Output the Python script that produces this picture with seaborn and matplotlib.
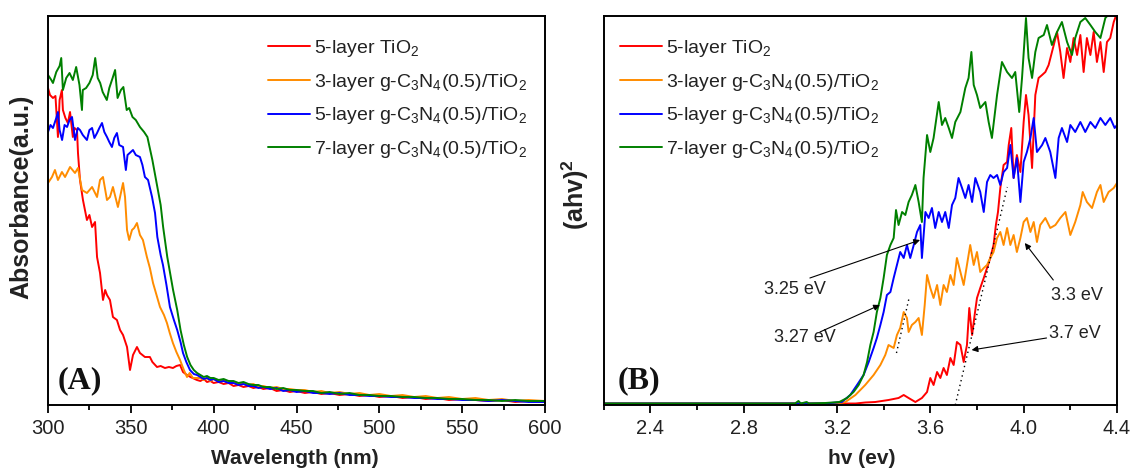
import matplotlib
matplotlib.use("Agg")
import matplotlib.pyplot as plt
from matplotlib.ticker import MultipleLocator
import numpy as np
import pandas as pd
import seaborn as sns

sns.set_theme(style="white")
plt.rcParams["font.family"] = ["Liberation Sans", "DejaVu Sans"]
plt.rcParams["mathtext.fontset"] = "custom"
plt.rcParams["mathtext.rm"] = "Liberation Sans"
plt.rcParams["mathtext.it"] = "Liberation Sans:italic"
plt.rcParams["mathtext.bf"] = "Liberation Sans:bold"

# ---------------- sample names and colours ----------------
sample_labels = [
    "5-layer TiO$_2$",
    "3-layer g-C$_3$N$_4$(0.5)/TiO$_2$",
    "5-layer g-C$_3$N$_4$(0.5)/TiO$_2$",
    "7-layer g-C$_3$N$_4$(0.5)/TiO$_2$",
]
sample_colors = ["#ff0000", "#ff8c00", "#0000ff", "#008000"]

# ---------------- (A) UV-vis absorbance ----------------
tail_wl = [392, 394, 396, 398, 400, 403, 406, 409, 412, 415, 418, 421, 424, 427, 430,
           434, 438, 442, 446, 450, 455, 460, 465, 470, 476, 482, 488, 494, 500, 507,
           514, 521, 528, 535, 542, 550, 558, 566, 574, 582, 590, 600]

wl_tio2 = [300, 301.2, 303, 304.5, 306, 307, 308.4, 309, 310.5, 312, 313.3, 315, 316, 317.5,
           318.1, 319.3, 321.1, 323.5, 325, 326.6, 328.4, 329.6, 331.4, 333.2, 334.5, 335.6,
           337.4, 339.2, 341.6, 343.5, 345.3, 347.7, 349.5, 351.3, 353.7, 355.5, 358.5, 361.5,
           363, 365.8, 368, 370.6, 373, 375.4, 377.5, 379.7, 381.5, 383.9, 386, 389.9] + tail_wl
abs_tio2 = [317, 310, 307, 309, 268, 305, 315, 295, 287, 282, 293, 268, 277, 275,
            252, 225, 205, 185, 190, 178, 183, 148, 132, 105, 115, 110,
            105, 88, 85, 75, 70, 58, 35, 50, 58, 52, 48, 48,
            43, 38, 39, 37, 38, 37, 39, 40, 33, 30, 28, 25,
            24, 26, 23, 24, 22, 23, 21, 22, 19, 20, 18, 19, 17, 18, 16,
            17, 14, 15, 13, 14, 12, 13, 11, 12, 10, 11, 9, 10, 8, 9,
            7, 8, 6, 7, 5, 6, 5, 4, 5, 3, 4, 3]

wl_g3 = [300, 302.4, 304.2, 306, 308.4, 310.3, 313.3, 316.3, 318.1, 320.5, 323.5, 326.6,
         329.6, 331.4, 333.2, 335.6, 337.4, 339.2, 342.2, 345.3, 346.5, 347.7, 349, 350.7,
         352, 353.7, 355.5, 357.3, 359.7, 361.5, 363.4, 365.5, 367.6, 370, 371.8, 373.5,
         375.4, 377.5, 379.7, 382, 383.9, 385.5, 387.5, 390] + tail_wl
abs_g3 = [222, 228, 235, 225, 233, 228, 238, 232, 237, 215, 212, 218,
          208, 225, 228, 205, 208, 218, 198, 222, 208, 175, 165, 175,
          177, 182, 170, 165, 148, 137, 122, 110, 98, 90, 82, 72,
          62, 53, 45, 35, 28, 32, 27, 27,
          27, 25, 27, 24, 26, 24, 25, 22, 23, 21, 22, 20, 21, 18, 19,
          17, 18, 16, 16, 15, 15, 13, 14, 12, 13, 11, 12, 10, 11, 9,
          10, 8, 9, 7, 8, 6, 7, 5, 6, 4, 5, 4]

wl_g5 = [300, 301.5, 303, 305, 306, 307, 308.5, 310, 311.5, 313, 314.5, 316.3, 318, 319.3,
         321, 323.5, 325, 326.6, 328, 329.6, 331, 332.6, 334, 335.6, 337, 338.6, 340, 341.6,
         343, 345.3, 347, 348, 351.3, 353, 355.5, 357, 358.5, 360.4, 362.8, 364.6, 366, 368,
         369.4, 371.5, 373.6, 376, 378, 380, 381.5, 383.5, 385.7, 388, 390] + tail_wl
abs_g5 = [273, 280, 277, 287, 293, 275, 265, 280, 278, 285, 288, 265, 277, 275,
          270, 265, 275, 277, 267, 272, 277, 282, 273, 268, 263, 258, 267, 272,
          260, 258, 235, 250, 255, 250, 248, 240, 228, 225, 208, 192, 168, 150,
          140, 120, 98, 85, 75, 63, 52, 43, 35, 31, 30,
          28, 26, 27, 25, 26, 23, 24, 22, 22, 20, 21, 19, 19, 17, 18,
          16, 17, 14, 15, 13, 14, 12, 12, 11, 12, 10, 10, 9, 9, 8,
          8, 7, 7, 6, 6, 5, 5, 4, 5, 4, 3, 3]

wl_g7 = [300, 302, 303, 305, 307, 308, 309, 311, 313, 315, 317, 319, 320.5, 321, 323, 325,
         327, 328.5, 330, 331.5, 333, 335.5, 337, 339, 340.5, 342, 344, 345.5, 347.5, 349,
         351, 353, 355.5, 358, 360, 363, 366, 368, 369.5, 372, 375.5, 378, 380, 382, 384,
         386, 388, 390] + tail_wl
abs_g7 = [330, 325, 322, 333, 339, 347, 315, 327, 332, 325, 338, 320, 295, 315, 317, 322,
          330, 347, 327, 322, 313, 305, 317, 327, 335, 307, 315, 318, 295, 297,
          288, 285, 278, 273, 268, 245, 218, 200, 178, 148, 115, 95, 75, 60, 48,
          40, 35, 32,
          30, 28, 29, 27, 27, 25, 26, 24, 24, 22, 23, 21, 20, 20, 18,
          18, 16, 17, 15, 15, 14, 14, 12, 13, 11, 12, 10, 10, 9, 9,
          8, 8, 7, 7, 6, 6, 5, 5, 4, 5, 4, 4]

# ---------------- (B) Tauc plot ----------------
ev_tio2 = [2.2, 3.28, 3.321, 3.364, 3.421, 3.464, 3.486, 3.507, 3.536, 3.564, 3.586, 3.60,
           3.614, 3.629, 3.643, 3.657, 3.671, 3.686, 3.70, 3.714, 3.729, 3.743, 3.757, 3.767,
           3.779, 3.79, 3.80, 3.814, 3.829, 3.843, 3.857, 3.871, 3.881, 3.89, 3.90, 3.914,
           3.929, 3.936, 3.947, 3.957, 3.971, 3.986, 4.0, 4.01, 4.021, 4.036, 4.05, 4.064,
           4.079, 4.093, 4.107, 4.129, 4.143, 4.157, 4.171, 4.186, 4.20, 4.214, 4.229, 4.243,
           4.257, 4.271, 4.286, 4.30, 4.314, 4.329, 4.343, 4.357, 4.371, 4.386, 4.4]
tauc_tio2 = [1.5, 1.5, 2.5, 3, 5, 7, 10, 7, 3, 7, 13, 27,
             20, 33, 27, 37, 30, 47, 40, 63, 60, 43, 60, 97,
             70, 90, 107, 117, 127, 137, 147, 160, 180, 193, 217, 240,
             243, 260, 277, 227, 250, 233, 283, 310, 290, 237, 310, 327,
             330, 333, 340, 360, 373, 353, 327, 357, 343, 367, 350, 370,
             333, 367, 350, 373, 343, 363, 333, 363, 367, 383, 392]

ev_g3 = [2.2, 3.2, 3.236, 3.279, 3.321, 3.357, 3.386, 3.407, 3.421, 3.443, 3.457, 3.471,
         3.486, 3.50, 3.507, 3.521, 3.536, 3.55, 3.564, 3.576, 3.586, 3.60, 3.614, 3.629,
         3.643, 3.657, 3.671, 3.686, 3.70, 3.714, 3.729, 3.743, 3.757, 3.771, 3.786, 3.80,
         3.814, 3.829, 3.843, 3.857, 3.871, 3.886, 3.90, 3.914, 3.929, 3.943, 3.957, 3.971,
         3.986, 4.0, 4.014, 4.029, 4.043, 4.057, 4.071, 4.093, 4.114, 4.136, 4.157, 4.179,
         4.20, 4.221, 4.243, 4.253, 4.271, 4.293, 4.314, 4.329, 4.343, 4.364, 4.386, 4.4]
tauc_g3 = [1.5, 1.5, 3, 10, 20, 30, 40, 50, 60, 57, 70, 77,
           93, 87, 73, 80, 83, 87, 70, 100, 130, 117, 107, 120,
           100, 120, 113, 130, 120, 147, 133, 120, 140, 160, 140, 153,
           133, 137, 140, 147, 153, 167, 173, 160, 177, 160, 170, 153,
           167, 183, 187, 173, 183, 163, 180, 187, 177, 180, 187, 193,
           170, 183, 200, 213, 203, 197, 213, 220, 203, 213, 217, 222]

ev_g5 = [2.2, 3.15, 3.221, 3.257, 3.286, 3.314, 3.336, 3.357, 3.371, 3.386, 3.40, 3.414,
         3.429, 3.443, 3.457, 3.471, 3.486, 3.50, 3.514, 3.529, 3.543, 3.557, 3.564, 3.579,
         3.593, 3.607, 3.621, 3.636, 3.65, 3.664, 3.679, 3.693, 3.707, 3.721, 3.736, 3.75,
         3.764, 3.779, 3.793, 3.814, 3.829, 3.843, 3.857, 3.871, 3.886, 3.90, 3.914, 3.929,
         3.943, 3.957, 3.971, 3.986, 4.0, 4.014, 4.029, 4.043, 4.057, 4.079, 4.093, 4.114,
         4.136, 4.15, 4.164, 4.186, 4.20, 4.221, 4.243, 4.264, 4.286, 4.307, 4.329, 4.35,
         4.371, 4.39, 4.4]
tauc_g5 = [1.5, 1.5, 3, 10, 20, 30, 43, 57, 67, 80, 93, 110,
           113, 127, 140, 153, 147, 160, 147, 160, 173, 180, 147, 193,
           187, 197, 177, 193, 183, 193, 177, 200, 207, 227, 217, 207,
           220, 203, 227, 213, 193, 223, 230, 227, 230, 220, 233, 237,
           260, 227, 247, 203, 243, 253, 267, 287, 253, 260, 267, 253,
           227, 267, 277, 263, 280, 273, 283, 273, 283, 277, 287, 280,
           287, 277, 280]

ev_g7 = [2.2, 3.02, 3.035, 3.045, 3.07, 3.08, 3.15, 3.21, 3.243, 3.271, 3.293, 3.314,
         3.329, 3.343, 3.357, 3.371, 3.386, 3.40, 3.414, 3.429, 3.443, 3.453, 3.464, 3.479,
         3.493, 3.507, 3.521, 3.536, 3.55, 3.564, 3.571, 3.586, 3.60, 3.614, 3.636, 3.65,
         3.664, 3.679, 3.693, 3.707, 3.729, 3.75, 3.764, 3.776, 3.786, 3.80, 3.814, 3.836,
         3.85, 3.864, 3.886, 3.907, 3.929, 3.95, 3.964, 3.981, 3.993, 4.01, 4.021, 4.036,
         4.05, 4.064, 4.086, 4.10, 4.121, 4.143, 4.164, 4.186, 4.207, 4.221, 4.243, 4.264,
         4.286, 4.307, 4.329, 4.35, 4.37, 4.39, 4.4]
tauc_g7 = [1.5, 1.5, 4, 1.5, 3, 1.5, 2, 3, 7, 13, 20, 30,
           43, 60, 73, 93, 107, 127, 150, 160, 167, 195, 180, 193,
           190, 203, 210, 220, 203, 183, 227, 270, 253, 267, 303, 280,
           287, 277, 267, 283, 293, 317, 327, 353, 320, 310, 297, 303,
           283, 267, 310, 343, 333, 327, 333, 293, 327, 387, 347, 327,
           353, 367, 370, 380, 360, 373, 383, 363, 350, 367, 383, 387,
           380, 373, 367, 387, 392, 395, 395]

# linear extrapolations of the absorption edges
fit_tio2_ev = [3.707, 3.93]
fit_tio2_val = [0, 218]
fit_g3_ev = [3.455, 3.51]
fit_g3_val = [52, 108]

# band-gap annotations: text, text position, arrow tail, arrow head
gap_texts = ["3.25 eV", "3.27 eV", "3.3 eV", "3.7 eV"]
gap_text_xy = [(3.02, 115), (3.063, 67), (4.228, 110), (4.22, 71)]
gap_tail_xy = [(3.084, 127), (3.127, 73), (4.127, 125), (4.098, 67)]
gap_head_xy = [(3.556, 165), (3.384, 100), (4.005, 162), (3.777, 55)]

# ---------------- figure ----------------
fig = plt.figure(figsize=(11.33, 4.70), dpi=100)
ax_a = fig.add_axes([48 / 1133, 65 / 470, 497 / 1133, 389 / 470])
ax_b = fig.add_axes([603.6 / 1133, 65 / 470, 513.4 / 1133, 389 / 470])

abs_x = [wl_tio2, wl_g3, wl_g5, wl_g7]
abs_y = [abs_tio2, abs_g3, abs_g5, abs_g7]
tauc_x = [ev_tio2, ev_g3, ev_g5, ev_g7]
tauc_y = [tauc_tio2, tauc_g3, tauc_g5, tauc_g7]

for xs, ys, lab, col in zip(abs_x, abs_y, sample_labels, sample_colors):
    df = pd.DataFrame({"x": xs, "y": ys})
    sns.lineplot(data=df, x="x", y="y", ax=ax_a, color=col, label=lab,
                 lw=1.4, sort=False, estimator=None)

for xs, ys, lab, col in zip(tauc_x, tauc_y, sample_labels, sample_colors):
    df = pd.DataFrame({"x": xs, "y": ys})
    sns.lineplot(data=df, x="x", y="y", ax=ax_b, color=col, label=lab,
                 lw=1.4, sort=False, estimator=None)

for ax in (ax_a, ax_b):
    ax.legend(loc="upper left", frameon=False, fontsize=14, handlelength=2.15,
              handletextpad=0.2, labelspacing=0.66, borderpad=0, borderaxespad=0,
              bbox_to_anchor=(0.443 if ax is ax_a else 0.032, 0.944))
    for t in ax.get_legend().get_texts():
        t.set_color("#222222")

ax_b.plot(fit_tio2_ev, fit_tio2_val, ls=(0, (1, 2.5)), color="black", lw=1.0)
ax_b.plot(fit_g3_ev, fit_g3_val, ls=(0, (1, 2.5)), color="black", lw=1.0)

for txt, txy, tail, head in zip(gap_texts, gap_text_xy, gap_tail_xy, gap_head_xy):
    ax_b.text(txy[0], txy[1], txt, fontsize=13, color="#222222", ha="center", va="center")
    ax_b.annotate("", xy=head, xytext=tail,
                  arrowprops=dict(arrowstyle="-|>", color="black", lw=0.8,
                                  mutation_scale=9, shrinkA=0, shrinkB=0))

# axes styling
ax_a.set_xlim(300, 600)
ax_a.xaxis.set_major_locator(MultipleLocator(50))
ax_a.xaxis.set_minor_locator(MultipleLocator(25))
ax_b.set_xlim(2.2, 4.4)
ax_b.set_xticks([2.4, 2.8, 3.2, 3.6, 4.0, 4.4])
ax_b.set_xticklabels(["2.4", "2.8", "3.2", "3.6", "4.0", "4.4"])
ax_b.xaxis.set_minor_locator(MultipleLocator(0.2))

for ax in (ax_a, ax_b):
    ax.set_ylim(0, 389)
    ax.set_yticks([])
    for s in ax.spines.values():
        s.set_visible(True)
        s.set_color("black")
        s.set_linewidth(1.4)
    ax.tick_params(axis="x", which="major", direction="out", length=6, width=1.3,
                   labelsize=14.5, pad=4, colors="black", labelcolor="#222222", bottom=True)
    ax.tick_params(axis="x", which="minor", direction="out", length=3.5, width=1.3,
                   colors="black", bottom=True)

ax_a.set_xlabel("Wavelength (nm)", fontsize=15, fontweight="bold", color="#222222")
ax_a.set_ylabel("Absorbance(a.u.)", fontsize=18, fontweight="bold", color="#222222")
ax_b.set_xlabel("hv (ev)", fontsize=15, fontweight="bold", color="#222222")
ax_b.set_ylabel(r"(ahv)$^{\mathbf{2}}$", fontsize=18, fontweight="bold", color="#222222")
ax_a.xaxis.set_label_coords(0.497, -0.113)
ax_b.xaxis.set_label_coords(0.503, -0.113)
ax_a.yaxis.set_label_coords(-0.03, 0.535)
ax_b.yaxis.set_label_coords(-0.025, 0.54)

ax_a.text(0.02, 0.062, "(A)", transform=ax_a.transAxes, fontsize=23, fontweight="bold",
          family="Liberation Serif", va="center", ha="left", color="#111111")
ax_b.text(0.028, 0.062, "(B)", transform=ax_b.transAxes, fontsize=23, fontweight="bold",
          family="Liberation Serif", va="center", ha="left", color="#111111")

fig.savefig("out.png", dpi=100)
